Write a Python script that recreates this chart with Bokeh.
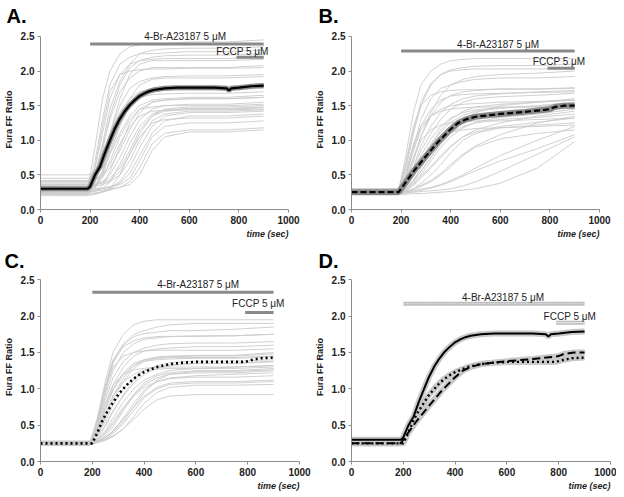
from bokeh.plotting import figure
from bokeh.layouts import column, row
from bokeh.models import Label, FixedTicker, NumeralTickFormatter, Range1d, Title
from bokeh.embed import file_html
from bokeh.resources import INLINE

# ---------------- data ----------------
X_TICKS = [0, 200, 400, 600, 800, 1000]
Y_TICKS = [0.0, 0.5, 1.0, 1.5, 2.0, 2.5]

# common sampling times for individual cell traces (sec)
T_CELLS = [0, 190, 220, 250, 280, 320, 360, 400, 450, 500, 600, 750, 900]

CELLS_A = [
    [0.30, 0.30, 0.90, 1.60, 2.00, 2.25, 2.35, 2.38, 2.40, 2.40, 2.42, 2.42, 2.45],
    [0.25, 0.26, 0.70, 1.30, 1.80, 2.10, 2.20, 2.25, 2.25, 2.26, 2.28, 2.28, 2.30],
    [0.35, 0.36, 0.60, 1.10, 1.60, 1.95, 2.10, 2.15, 2.17, 2.18, 2.18, 2.18, 2.20],
    [0.28, 0.28, 0.50, 0.90, 1.30, 1.70, 1.90, 2.00, 2.05, 2.05, 2.05, 2.05, 2.08],
    [0.22, 0.22, 0.40, 0.70, 1.10, 1.50, 1.75, 1.85, 1.90, 1.92, 1.93, 1.93, 1.95],
    [0.40, 0.40, 0.55, 0.80, 1.10, 1.40, 1.60, 1.70, 1.75, 1.76, 1.78, 1.78, 1.80],
    [0.30, 0.30, 0.35, 0.50, 0.80, 1.20, 1.50, 1.65, 1.72, 1.74, 1.75, 1.75, 1.78],
    [0.45, 0.45, 0.50, 0.60, 0.80, 1.10, 1.35, 1.50, 1.58, 1.60, 1.62, 1.62, 1.65],
    [0.25, 0.25, 0.27, 0.35, 0.55, 0.90, 1.25, 1.45, 1.55, 1.58, 1.60, 1.60, 1.62],
    [0.33, 0.33, 0.35, 0.40, 0.50, 0.75, 1.05, 1.30, 1.45, 1.50, 1.52, 1.52, 1.55],
    [0.20, 0.20, 0.22, 0.25, 0.30, 0.50, 0.80, 1.10, 1.35, 1.45, 1.48, 1.48, 1.50],
    [0.38, 0.38, 0.38, 0.40, 0.45, 0.60, 0.85, 1.15, 1.35, 1.42, 1.45, 1.45, 1.47],
    [0.28, 0.28, 0.28, 0.30, 0.32, 0.40, 0.60, 0.90, 1.20, 1.35, 1.40, 1.40, 1.42],
    [0.30, 0.30, 0.30, 0.31, 0.33, 0.36, 0.45, 0.70, 1.05, 1.20, 1.25, 1.25, 1.28],
    [0.27, 0.27, 0.27, 0.28, 0.30, 0.32, 0.36, 0.50, 0.85, 1.05, 1.12, 1.12, 1.15],
    [0.50, 0.50, 0.52, 0.70, 1.10, 1.60, 1.95, 2.10, 2.15, 2.15, 2.15, 2.15, 2.17],
    [0.24, 0.24, 0.60, 1.20, 1.70, 1.95, 2.00, 2.02, 2.03, 2.03, 2.04, 2.04, 2.05],
    [0.32, 0.32, 0.34, 0.45, 0.70, 1.05, 1.30, 1.45, 1.48, 1.50, 1.50, 1.50, 1.52],
    [0.35, 0.35, 0.36, 0.38, 0.42, 0.55, 0.80, 1.05, 1.25, 1.30, 1.32, 1.32, 1.35],
    [0.26, 0.26, 0.30, 0.50, 0.90, 1.30, 1.55, 1.68, 1.72, 1.73, 1.73, 1.73, 1.75],
    [0.42, 0.42, 0.44, 0.50, 0.65, 0.95, 1.20, 1.35, 1.42, 1.43, 1.44, 1.44, 1.45],
    [0.22, 0.22, 0.23, 0.25, 0.28, 0.32, 0.40, 0.60, 0.95, 1.10, 1.15, 1.15, 1.18],
    [0.30, 0.30, 0.45, 0.85, 1.35, 1.80, 2.05, 2.15, 2.20, 2.22, 2.23, 2.23, 2.25],
    [0.36, 0.36, 0.40, 0.55, 0.85, 1.25, 1.50, 1.62, 1.66, 1.67, 1.68, 1.68, 1.70],
    [0.25, 0.25, 0.26, 0.30, 0.40, 0.65, 0.95, 1.20, 1.38, 1.44, 1.46, 1.46, 1.48],
    [0.33, 0.33, 0.34, 0.36, 0.40, 0.50, 0.70, 1.00, 1.28, 1.38, 1.42, 1.42, 1.44],
    [0.28, 0.28, 0.32, 0.55, 0.95, 1.35, 1.60, 1.80, 1.88, 1.90, 1.90, 1.90, 1.92],
    [0.40, 0.40, 0.42, 0.48, 0.60, 0.85, 1.15, 1.40, 1.55, 1.58, 1.60, 1.60, 1.62],
    [0.23, 0.23, 0.24, 0.26, 0.30, 0.38, 0.52, 0.78, 1.10, 1.28, 1.35, 1.35, 1.38],
    [0.31, 0.31, 0.50, 0.95, 1.45, 1.85, 2.10, 2.25, 2.30, 2.32, 2.33, 2.33, 2.35],
]

CELLS_B = [
    [0.25, 0.25, 0.80, 1.40, 1.80, 2.00, 2.10, 2.15, 2.17, 2.18, 2.18, 2.18, 2.18],
    [0.28, 0.28, 0.60, 1.10, 1.50, 1.80, 1.95, 2.00, 2.02, 2.03, 2.03, 2.03, 2.03],
    [0.22, 0.22, 0.50, 0.90, 1.30, 1.60, 1.75, 1.80, 1.85, 1.88, 1.90, 1.90, 1.92],
    [0.30, 0.30, 0.45, 0.75, 1.05, 1.35, 1.55, 1.65, 1.70, 1.72, 1.74, 1.74, 1.76],
    [0.25, 0.25, 0.40, 0.60, 0.85, 1.10, 1.30, 1.45, 1.55, 1.60, 1.63, 1.65, 1.68],
    [0.24, 0.24, 0.35, 0.50, 0.70, 0.95, 1.15, 1.30, 1.42, 1.48, 1.52, 1.55, 1.60],
    [0.27, 0.27, 0.32, 0.42, 0.55, 0.75, 0.95, 1.10, 1.25, 1.33, 1.40, 1.45, 1.50],
    [0.23, 0.23, 0.28, 0.35, 0.45, 0.60, 0.75, 0.90, 1.05, 1.15, 1.25, 1.35, 1.42],
    [0.26, 0.26, 0.27, 0.30, 0.35, 0.42, 0.52, 0.65, 0.80, 0.92, 1.08, 1.25, 1.35],
    [0.25, 0.25, 0.26, 0.27, 0.29, 0.32, 0.36, 0.42, 0.50, 0.60, 0.78, 1.00, 1.20],
    [0.24, 0.24, 0.24, 0.25, 0.26, 0.27, 0.28, 0.30, 0.34, 0.40, 0.55, 0.80, 1.05],
    [0.22, 0.22, 0.22, 0.23, 0.23, 0.24, 0.25, 0.26, 0.28, 0.30, 0.38, 0.60, 0.98],
    [0.30, 0.30, 0.70, 1.20, 1.50, 1.65, 1.70, 1.72, 1.73, 1.73, 1.74, 1.74, 1.75],
    [0.26, 0.26, 0.55, 0.95, 1.20, 1.35, 1.42, 1.45, 1.47, 1.48, 1.48, 1.48, 1.50],
    [0.25, 0.25, 0.45, 0.75, 1.00, 1.15, 1.22, 1.25, 1.27, 1.28, 1.28, 1.30, 1.32],
    [0.28, 0.28, 0.35, 0.50, 0.70, 0.90, 1.05, 1.12, 1.15, 1.17, 1.18, 1.20, 1.22],
    [0.24, 0.24, 0.30, 0.42, 0.60, 0.80, 1.00, 1.15, 1.30, 1.40, 1.50, 1.55, 1.58],
    [0.27, 0.27, 0.40, 0.70, 1.05, 1.40, 1.65, 1.80, 1.88, 1.92, 1.95, 1.97, 2.00],
    [0.23, 0.23, 0.25, 0.28, 0.33, 0.40, 0.50, 0.62, 0.78, 0.90, 1.02, 1.10, 1.15],
    [0.25, 0.25, 0.30, 0.40, 0.55, 0.75, 0.95, 1.10, 1.20, 1.25, 1.30, 1.33, 1.38],
    [0.29, 0.29, 0.50, 0.85, 1.15, 1.35, 1.45, 1.50, 1.52, 1.53, 1.55, 1.56, 1.58],
    [0.24, 0.24, 0.26, 0.30, 0.38, 0.50, 0.65, 0.82, 1.00, 1.10, 1.18, 1.22, 1.25],
    [0.26, 0.26, 0.38, 0.62, 0.92, 1.20, 1.40, 1.52, 1.60, 1.64, 1.67, 1.70, 1.72],
    [0.25, 0.25, 0.33, 0.48, 0.68, 0.92, 1.12, 1.26, 1.36, 1.42, 1.46, 1.50, 1.55],
    [0.24, 0.24, 0.28, 0.36, 0.50, 0.70, 0.90, 1.05, 1.18, 1.26, 1.33, 1.38, 1.45],
    [0.27, 0.27, 0.50, 0.88, 1.20, 1.45, 1.58, 1.64, 1.66, 1.67, 1.68, 1.69, 1.70],
    [0.23, 0.23, 0.24, 0.26, 0.28, 0.31, 0.35, 0.40, 0.48, 0.56, 0.70, 0.88, 1.08],
    [0.26, 0.26, 0.30, 0.38, 0.48, 0.62, 0.78, 0.92, 1.05, 1.12, 1.20, 1.26, 1.32],
    [0.28, 0.28, 0.65, 1.15, 1.55, 1.82, 1.95, 2.02, 2.05, 2.07, 2.08, 2.08, 2.10],
    [0.25, 0.25, 0.36, 0.55, 0.78, 1.02, 1.20, 1.32, 1.40, 1.44, 1.47, 1.49, 1.52],
]

CELLS_C = [
    [0.25, 0.25, 0.60, 1.10, 1.50, 1.75, 1.88, 1.93, 1.95, 1.95, 1.95, 1.95, 1.95],
    [0.22, 0.22, 0.50, 0.90, 1.25, 1.50, 1.62, 1.68, 1.70, 1.72, 1.72, 1.73, 1.75],
    [0.28, 0.28, 0.45, 0.75, 1.05, 1.30, 1.45, 1.52, 1.55, 1.56, 1.58, 1.58, 1.60],
    [0.25, 0.25, 0.40, 0.60, 0.85, 1.10, 1.28, 1.38, 1.42, 1.44, 1.45, 1.45, 1.48],
    [0.24, 0.24, 0.35, 0.50, 0.70, 0.90, 1.08, 1.20, 1.28, 1.32, 1.35, 1.35, 1.38],
    [0.26, 0.26, 0.30, 0.40, 0.55, 0.75, 0.92, 1.05, 1.15, 1.20, 1.22, 1.22, 1.25],
    [0.23, 0.23, 0.27, 0.32, 0.42, 0.58, 0.75, 0.90, 1.02, 1.08, 1.10, 1.10, 1.12],
    [0.27, 0.27, 0.28, 0.30, 0.35, 0.45, 0.58, 0.72, 0.85, 0.90, 0.92, 0.92, 0.92],
    [0.25, 0.25, 0.55, 1.00, 1.30, 1.45, 1.50, 1.52, 1.53, 1.53, 1.53, 1.53, 1.55],
    [0.22, 0.22, 0.45, 0.80, 1.05, 1.20, 1.26, 1.28, 1.30, 1.30, 1.30, 1.30, 1.32],
    [0.28, 0.28, 0.40, 0.65, 0.90, 1.10, 1.20, 1.25, 1.27, 1.28, 1.28, 1.28, 1.30],
    [0.24, 0.24, 0.30, 0.42, 0.60, 0.82, 1.00, 1.12, 1.20, 1.25, 1.28, 1.30, 1.32],
    [0.26, 0.26, 0.28, 0.33, 0.42, 0.60, 0.80, 0.98, 1.10, 1.15, 1.18, 1.20, 1.22],
    [0.25, 0.25, 0.50, 0.95, 1.35, 1.60, 1.72, 1.76, 1.78, 1.80, 1.80, 1.82, 1.85],
    [0.23, 0.23, 0.35, 0.60, 0.90, 1.15, 1.32, 1.40, 1.44, 1.45, 1.46, 1.46, 1.50],
    [0.27, 0.27, 0.29, 0.35, 0.48, 0.70, 0.92, 1.08, 1.18, 1.22, 1.25, 1.25, 1.28],
    [0.24, 0.24, 0.26, 0.29, 0.34, 0.45, 0.62, 0.80, 0.95, 1.02, 1.05, 1.05, 1.06],
    [0.25, 0.25, 0.42, 0.72, 1.00, 1.22, 1.35, 1.40, 1.42, 1.43, 1.43, 1.43, 1.45],
    [0.26, 0.26, 0.38, 0.55, 0.78, 1.00, 1.15, 1.25, 1.30, 1.33, 1.35, 1.35, 1.37],
    [0.22, 0.22, 0.60, 1.05, 1.40, 1.62, 1.75, 1.80, 1.85, 1.88, 1.90, 1.90, 1.90],
    [0.25, 0.25, 0.48, 0.85, 1.15, 1.38, 1.50, 1.56, 1.60, 1.62, 1.63, 1.63, 1.65],
    [0.24, 0.24, 0.32, 0.48, 0.68, 0.92, 1.12, 1.25, 1.32, 1.36, 1.38, 1.38, 1.40],
    [0.26, 0.26, 0.28, 0.32, 0.40, 0.55, 0.75, 0.95, 1.12, 1.20, 1.24, 1.24, 1.26],
    [0.23, 0.23, 0.40, 0.70, 0.98, 1.20, 1.32, 1.38, 1.40, 1.41, 1.42, 1.42, 1.44],
    [0.27, 0.27, 0.30, 0.38, 0.52, 0.72, 0.90, 1.02, 1.10, 1.14, 1.16, 1.16, 1.18],
    [0.25, 0.25, 0.55, 1.00, 1.38, 1.58, 1.66, 1.70, 1.72, 1.72, 1.73, 1.73, 1.75],
    [0.24, 0.24, 0.26, 0.30, 0.38, 0.52, 0.70, 0.88, 1.00, 1.06, 1.08, 1.08, 1.10],
]

# mean traces
T_MEAN_A = [0, 190, 200, 220, 240, 260, 280, 300, 320, 340, 360, 380, 400, 420, 440,
            460, 480, 500, 550, 600, 700, 750, 760, 770, 800, 850, 900]
MEAN_A = [0.30, 0.30, 0.33, 0.50, 0.62, 0.82, 1.00, 1.17, 1.31, 1.42, 1.51, 1.58, 1.64,
          1.68, 1.71, 1.73, 1.74, 1.75, 1.76, 1.76, 1.76, 1.75, 1.72, 1.75, 1.76, 1.78, 1.79]

T_MEAN_B = [0, 190, 200, 250, 300, 350, 400, 430, 460, 500, 550, 600, 700, 780, 800,
            820, 840, 860, 900]
MEAN_B = [0.25, 0.25, 0.30, 0.55, 0.77, 0.98, 1.16, 1.25, 1.30, 1.34, 1.36, 1.38, 1.41,
          1.44, 1.45, 1.48, 1.49, 1.50, 1.50]

T_MEAN_C = [0, 200, 220, 240, 260, 280, 300, 320, 340, 360, 380, 400, 420, 450, 500,
            550, 600, 700, 780, 800, 820, 850, 900]
MEAN_C = [0.25, 0.25, 0.40, 0.57, 0.70, 0.81, 0.92, 1.00, 1.08, 1.14, 1.19, 1.23, 1.26,
          1.30, 1.34, 1.36, 1.37, 1.37, 1.37, 1.38, 1.40, 1.42, 1.43]

DRUG_LABEL = "4-Br-A23187 5 μM"
FCCP_LABEL = "FCCP 5 μM"
DRUG_START, DRUG_END = 200, 900
FCCP_START, FCCP_END = 790, 900

FONT = "Liberation Sans"
CELL_COLOR = "#cbcbcb"
BAR_COLOR = "#8a8a8a"
Y_TOP = 2.6  # a little headroom above the 2.5 tick for the treatment labels


def make_fig(letter, fw, fh, bl, br, bt, bb, title_standoff):
    p = figure(frame_width=fw, frame_height=fh,
               min_border_left=bl, min_border_right=br,
               min_border_top=bt, min_border_bottom=bb,
               x_range=Range1d(0, 1000), y_range=Range1d(0, Y_TOP),
               output_backend="svg", toolbar_location=None)
    p.outline_line_color = None
    p.grid.visible = False
    p.background_fill_color = "white"
    p.border_fill_color = "white"
    p.xaxis.ticker = FixedTicker(ticks=X_TICKS)
    p.yaxis.ticker = FixedTicker(ticks=Y_TICKS)
    p.yaxis.bounds = (0, 2.5)
    p.yaxis.formatter = NumeralTickFormatter(format="0.0")
    p.xaxis.formatter = NumeralTickFormatter(format="0")
    for ax in (p.xaxis, p.yaxis):
        ax.axis_line_color = "#8c8c8c"
        ax.major_tick_line_color = "#8c8c8c"
        ax.major_tick_out = 3
        ax.major_tick_in = 0
        ax.minor_tick_line_color = None
        ax.major_label_text_font = FONT
        ax.major_label_text_font_style = "bold"
        ax.major_label_text_font_size = "10px"
        ax.major_label_text_color = "#222222"
        ax.major_label_standoff = 3
    p.yaxis.axis_label = "Fura FF Ratio"
    p.yaxis.axis_label_text_font = FONT
    p.yaxis.axis_label_text_font_style = "bold"
    p.yaxis.axis_label_text_font_size = "9px"
    p.yaxis.axis_label_text_color = "#222222"
    p.yaxis.axis_label_standoff = 4
    # panel letter
    p.title.text = letter
    p.title.align = "left"
    p.title.offset = -bl + 1
    p.title.standoff = title_standoff
    p.title.text_font = FONT
    p.title.text_font_size = "20px"
    p.title.text_font_style = "bold"
    p.title.text_color = "black"
    # x label, right-aligned under the axis
    p.add_layout(Title(text="time (sec)", align="right", standoff=0,
                       text_font=FONT, text_font_size="9px",
                       text_font_style="bold italic", text_color="#222222"),
                 "below")
    return p


def add_text(p, x, y, text):
    p.add_layout(Label(x=x, y=y, text=text, text_font=FONT,
                       text_font_size="10px", text_align="center",
                       text_baseline="middle", text_color="#222222"))


def decorate(p, bar_y, bar_text_x, bar_text_y, fccp_y, fccp_text_x, fccp_text_y,
             light=False):
    if light:
        p.line([DRUG_START, DRUG_END], [bar_y, bar_y], line_color="#bdbdbd", line_width=4)
        p.line([DRUG_START, DRUG_END], [bar_y, bar_y], line_color="#e6e6e6", line_width=1,
               line_dash="2 1")
        p.line([FCCP_START, FCCP_END], [fccp_y, fccp_y], line_color="#bdbdbd", line_width=4)
        p.line([FCCP_START, FCCP_END], [fccp_y, fccp_y], line_color="#ededed", line_width=1)
    else:
        p.line([DRUG_START, DRUG_END], [bar_y, bar_y], line_color=BAR_COLOR, line_width=3)
        p.line([FCCP_START, FCCP_END], [fccp_y, fccp_y], line_color=BAR_COLOR, line_width=3)
    add_text(p, bar_text_x, bar_text_y, DRUG_LABEL)
    add_text(p, fccp_text_x, fccp_text_y, FCCP_LABEL)


def draw_cells(p, cells):
    for ys in cells:
        p.line(T_CELLS, ys, line_color=CELL_COLOR, line_width=0.9)


# ---------------- panel A ----------------
pa = make_fig("A.", 248, 180, 35, 23, 27, 37, 5)
draw_cells(pa, CELLS_A)
pa.line(T_MEAN_A, MEAN_A, line_color="#8a8a8a", line_width=5)
pa.line(T_MEAN_A, MEAN_A, line_color="black", line_width=2.2)
decorate(pa, 2.39, 583, 2.50, 2.20, 814, 2.28)

# ---------------- panel B ----------------
pb = make_fig("B.", 248, 180, 34, 12, 27, 37, 5)
draw_cells(pb, CELLS_B)
pb.line(T_MEAN_B, MEAN_B, line_color="#8a8a8a", line_width=6)
pb.line(T_MEAN_B, MEAN_B, line_color="black", line_width=2.2, line_dash="6 3")
decorate(pb, 2.29, 591, 2.38, 2.04, 837, 2.14)

# ---------------- panel C ----------------
pc = make_fig("C.", 259, 189, 37, 12, 24, 30, 2)
draw_cells(pc, CELLS_C)
pc.line(T_MEAN_C, MEAN_C, line_color="black", line_width=2.6, line_dash="2 3")
decorate(pc, 2.33, 609, 2.43, 2.05, 841, 2.17)

# ---------------- panel D ----------------
pd = make_fig("D.", 259, 189, 34, 6, 24, 30, 2)
for t, m in ((T_MEAN_A, MEAN_A), (T_MEAN_B, MEAN_B), (T_MEAN_C, MEAN_C)):
    pd.line(t, m, line_color="#c8c8c8", line_width=6)
pd.line(T_MEAN_A, MEAN_A, line_color="black", line_width=2)
pd.line(T_MEAN_B, MEAN_B, line_color="black", line_width=2, line_dash="8 4")
pd.line(T_MEAN_C, MEAN_C, line_color="black", line_width=2.4, line_dash="2 3")
decorate(pd, 2.17, 585, 2.26, 1.91, 843, 2.00, light=True)

layout = column(row(pa, pb), row(pc, pd))

open("out.html", "w").write(file_html(layout, INLINE))
